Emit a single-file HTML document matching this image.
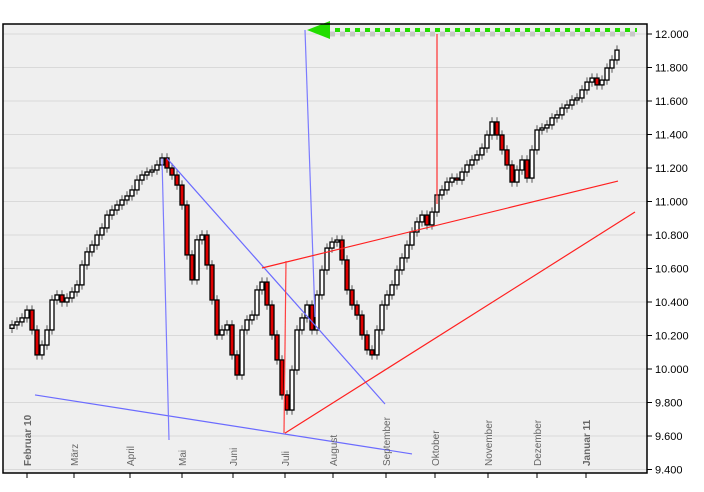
<!DOCTYPE html>
<html><head><meta charset="utf-8">
<style>
html,body{margin:0;padding:0;background:#fff;}
svg{display:block;font-family:"Liberation Sans",sans-serif;}
</style></head>
<body>
<svg id="chart" width="704" height="492" viewBox="0 0 704 492" xmlns="http://www.w3.org/2000/svg">
<rect x="3" y="24" width="644" height="449" fill="#efefef"/>
<g id="grid"></g>
<g id="candles"></g>
<g id="lines"></g>
<g id="axes"></g>
</svg>
<script>
const closes = [10263,10281,10305,10352,10233,10084,10143,10233,10412,10442,10400,10424,10460,10502,10621,10699,10740,10800,10842,10919,10949,10979,11009,11033,11069,11128,11158,11176,11188,11218,11260,11200,11158,11098,10979,10681,10532,10771,10800,10621,10412,10203,10233,10263,10084,9964,10233,10293,10322,10472,10519,10382,10203,10054,9845,9755,9994,10233,10305,10382,10233,10442,10591,10722,10758,10770,10651,10472,10382,10322,10203,10114,10084,10233,10382,10442,10502,10591,10663,10740,10818,10878,10919,10860,10937,11039,11069,11116,11140,11128,11176,11218,11248,11278,11319,11397,11475,11397,11308,11218,11116,11188,11248,11140,11308,11427,11439,11457,11499,11517,11558,11576,11606,11618,11666,11713,11737,11696,11725,11797,11845,11904];
const yTicks = [9400,9600,9800,10000,10200,10400,10600,10800,11000,11200,11400,11600,11800,12000];
const yTickLabels = ["9.400","9.600","9.800","10.000","10.200","10.400","10.600","10.800","11.000","11.200","11.400","11.600","11.800","12.000"];
const months = ["Februar 10","März","April","Mai","Juni","Juli","August","September","Oktober","November","Dezember","Januar 11"];
const monthIndex = [3,12.4,23.6,34,44.2,54.6,64.2,74.8,84.6,95.2,105,114.8];
// trendlines: [index1, value1, index2, value2, color]
const trendlines = [
 [4.6,9845,80,9493,"#6b6bff"],
 [30,11257,31.4,9576,"#7b7bff"],
 [31,11257,74.6,9791,"#6b6bff"],
 [58.6,12024,60.6,10310,"#7b7bff"],
 [50,10603,121.2,11122,"#ff2020"],
 [54.6,9617,124.6,10937,"#ff2020"],
 [54.8,10645,54.4,9617,"#ff4040"],
 [85,12000,85,10985,"#ff3030"]
];
const NS="http://www.w3.org/2000/svg";
const X = i => 12 + i*5;
const Y = v => 34 + (12000 - v)/200*33.5;
function mk(tag, attrs, parent){const e=document.createElementNS(NS,tag);for(const k in attrs)e.setAttribute(k,attrs[k]);parent.appendChild(e);return e;}
const grid=document.getElementById('grid'), cg=document.getElementById('candles'), lg=document.getElementById('lines'), ax=document.getElementById('axes');
yTicks.forEach((t,i)=>{
  const y=Y(t);
  const l=mk('line',{x1:3,x2:647,y1:y,y2:y,stroke:'#d9d9d9','stroke-width':1},grid);
  
  
  const tk=mk('line',{x1:647,x2:652,y1:y,y2:y,stroke:'#000'},ax);
  
  
  const tx=mk('text',{x:655,y:y+4,'font-size':11,fill:'#000'},ax);
  tx.textContent=yTickLabels[i];
  
  
});
closes.forEach((c,i)=>{
  const o = i===0 ? c-20 : closes[i-1];
  const hi=Math.max(o,c)+28, lo=Math.min(o,c)-28;
  const x=X(i);
  const w=mk('line',{x1:x,x2:x,y1:Y(hi),y2:Y(lo),stroke:'#555','stroke-width':1},cg);
  
  
  const top=Y(Math.max(o,c)), bot=Y(Math.min(o,c));
  const r=mk('rect',{x:x-2,y:top,width:4,height:Math.max(1,bot-top),fill:c<o?'#e00000':'#fff',stroke:'#000','stroke-width':1.3},cg);
  
  
});
trendlines.forEach(t=>{
  const l=mk('line',{x1:X(t[0]),y1:Y(t[1]),x2:X(t[2]),y2:Y(t[3]),stroke:t[4],'stroke-width':1.2},lg);
  
  
});
const sh=mk('line',{x1:330,x2:640,y1:34,y2:34,stroke:'#c8c8c8','stroke-width':5,'stroke-dasharray':'5 5'},lg);


const ga=mk('line',{x1:325,x2:637,y1:30,y2:30,stroke:'#22dd00','stroke-width':4,'stroke-dasharray':'5 5'},lg);


const gh=mk('polygon',{points:'307,30 330,21 330,39',fill:'#22dd00'},lg);


const fr=mk('rect',{x:3,y:24,width:644,height:449,fill:'none',stroke:'#000','stroke-width':1.5},ax);


months.forEach((m,i)=>{
  const x=X(monthIndex[i]);
  const tk=mk('line',{x1:x,x2:x,y1:473,y2:478,stroke:'#000'},ax);
  
  
  const bold=(i===0||i===months.length-1);
  const tx=mk('text',{x:x+4,y:466,'font-size':10,fill:'#666','font-weight':bold?'bold':'normal',transform:`rotate(-90 ${x+4} 466)`},ax);
  tx.textContent=m;
  
  
});
</script>
</body></html>
